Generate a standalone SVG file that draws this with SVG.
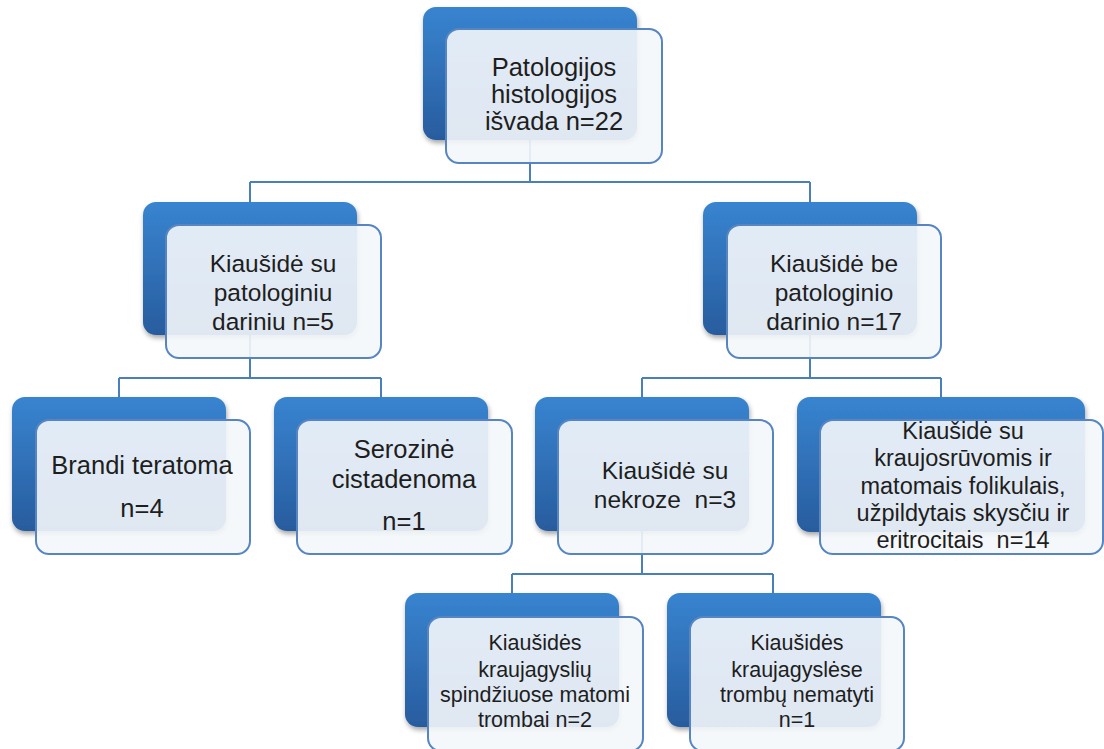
<svg xmlns="http://www.w3.org/2000/svg" width="1104" height="749" viewBox="0 0 1104 749">
<defs>
<linearGradient id="gb" x1="0" y1="0" x2="0" y2="1">
<stop offset="0" stop-color="#3884d0"/>
<stop offset="1" stop-color="#285c9e"/>
</linearGradient>
<filter id="sh" x="-10%" y="-10%" width="125%" height="130%">
<feDropShadow dx="1" dy="3" stdDeviation="2.5" flood-color="#000" flood-opacity="0.35"/>
</filter>
<style>
.back{fill:url(#gb);filter:url(#sh)}
.front{fill:#f4f7fb;fill-opacity:0.9;stroke:#5685c2;stroke-width:2}
.conn{fill:none;stroke:#4b7fbc;stroke-width:2}
text{font-family:"Liberation Sans",Arial,sans-serif;fill:#1e1e1e;text-anchor:middle}
.t25{font-size:25.5px}
.t24{font-size:24.5px}
.t22{font-size:23.5px}
.t20{font-size:21.5px}
</style>
</defs>
<rect width="1104" height="749" fill="#fff"/>
<g id="connectors">
<path class="conn" d="M530 140V182M250 182H810M250 182V202M810 182V202"/>
<path class="conn" d="M250 335V378M119 378H381M119 378V397M381 378V397"/>
<path class="conn" d="M810 335V378M642 378H941M642 378V397M941 378V397"/>
<path class="conn" d="M642 531V574M512 574H773M512 574V593M773 574V593"/>
</g>
<g id="n_root">
<rect class="back" x="423" y="7" width="214" height="133" rx="13"/>
<rect class="front" x="446" y="29" width="216" height="134" rx="13"/>
<text class="t25" x="554" y="76">Patologijos</text>
<text class="t25" x="554" y="103">histologijos</text>
<text class="t25" x="554" y="130">išvada n=22</text>
</g>
<g id="n_su">
<rect class="back" x="143" y="202" width="214" height="133" rx="13"/>
<rect class="front" x="166" y="225" width="215" height="133" rx="13"/>
<text class="t24" x="273" y="272">Kiaušidė su</text>
<text class="t24" x="273" y="301">patologiniu</text>
<text class="t24" x="273" y="330">dariniu n=5</text>
</g>
<g id="n_be">
<rect class="back" x="703" y="202" width="214" height="133" rx="13"/>
<rect class="front" x="727" y="225" width="214" height="133" rx="13"/>
<text class="t24" x="834" y="272">Kiaušidė be</text>
<text class="t24" x="834" y="301">patologinio</text>
<text class="t24" x="834" y="330">darinio n=17</text>
</g>
<g id="n_brandi">
<rect class="back" x="12" y="397" width="214" height="134" rx="13"/>
<rect class="front" x="36" y="420" width="214" height="134" rx="13"/>
<text class="t25" x="142" y="474">Brandi teratoma</text>
<text class="t25" x="142" y="517">n=4</text>
</g>
<g id="n_sero">
<rect class="back" x="274" y="397" width="214" height="134" rx="13"/>
<rect class="front" x="297" y="420" width="215" height="134" rx="13"/>
<text class="t25" x="404" y="458">Serozinė</text>
<text class="t25" x="404" y="488">cistadenoma</text>
<text class="t25" x="404" y="530">n=1</text>
</g>
<g id="n_nekroze">
<rect class="back" x="535" y="397" width="214" height="134" rx="13"/>
<rect class="front" x="558" y="420" width="215" height="134" rx="13"/>
<text class="t24" x="665" y="479">Kiaušidė su</text>
<text class="t24" x="665" y="508" xml:space="preserve">nekroze  n=3</text>
</g>
<g id="n_kraujo">
<rect class="back" x="797" y="397" width="288" height="135" rx="13"/>
<rect class="front" x="820" y="420" width="283" height="134" rx="13"/>
<text class="t22" x="963" y="439">Kiaušidė su</text>
<text class="t22" x="963" y="466">kraujosrūvomis ir</text>
<text class="t22" x="963" y="494">matomais folikulais,</text>
<text class="t22" x="963" y="521">užpildytais skysčiu ir</text>
<text class="t22" x="963" y="548" xml:space="preserve">eritrocitais  n=14</text>
</g>
<g id="n_trombai">
<rect class="back" x="405" y="593" width="214" height="134" rx="13"/>
<rect class="front" x="428" y="617" width="215" height="134" rx="13"/>
<text class="t20" x="535" y="650">Kiaušidės</text>
<text class="t20" x="535" y="677">kraujagyslių</text>
<text class="t20" x="535" y="702">spindžiuose matomi</text>
<text class="t20" x="535" y="727">trombai n=2</text>
</g>
<g id="n_nematyti">
<rect class="back" x="667" y="593" width="214" height="134" rx="13"/>
<rect class="front" x="690" y="617" width="214" height="134" rx="13"/>
<text class="t20" x="797" y="650">Kiaušidės</text>
<text class="t20" x="797" y="677">kraujagyslėse</text>
<text class="t20" x="797" y="702">trombų nematyti</text>
<text class="t20" x="797" y="727">n=1</text>
</g>
</svg>
